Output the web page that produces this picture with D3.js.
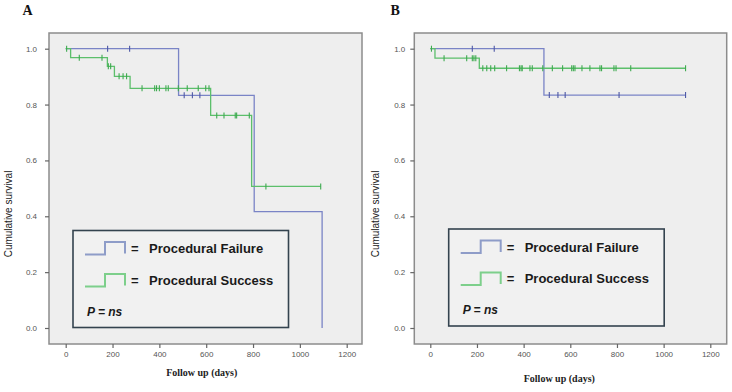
<!DOCTYPE html>
<html>
<head>
<meta charset="utf-8">
<script src="https://cdn.jsdelivr.net/npm/d3@7"></script>
<style>
  body { margin: 0; background: #ffffff; }
  svg { display: block; }
</style>
</head>
<body>
<div id="canvas"></div>
<script>
"use strict"

/* Axis ticks */
let xTicks = [0, 200, 400, 600, 800, 1000, 1200];
let yTicks = [0.0, 0.2, 0.4, 0.6, 0.8, 1.0];

/* Panel A - step points (time in days, cumulative survival) and censor times */
let failTimesA = [0, 482, 805, 1095];
let failSurvA = [1.0, 0.833, 0.417, 0.0];
let failEndA = 1095;
let failCensorA = [179, 273, 506, 541, 573];

let succTimesA = [0, 21, 178, 208, 275, 619, 794];
let succSurvA = [1.0, 0.968, 0.937, 0.901, 0.858, 0.761, 0.507];
let succEndA = 1089;
let succCensorA = [4, 58, 155, 182, 192, 228, 245, 260, 326, 380, 388, 400, 428, 438,
    481, 519, 566, 598, 612, 645, 676, 724, 730, 784, 855, 1089];

/* Panel B */
let failTimesB = [0, 487];
let failSurvB = [1.0, 0.834];
let failEndB = 1094;
let failCensorB = [180, 274, 510, 547, 578, 809, 1094];

let succTimesB = [0, 20, 210];
let succSurvB = [1.0, 0.966, 0.930];
let succEndB = 1094;
let succCensorB = [5, 59, 156, 180, 187, 195, 225, 242, 259, 276, 327, 382, 389, 394,
    427, 437, 482, 523, 567, 606, 613, 620, 650, 684, 727, 734, 787, 796, 859, 1094];

let legendLabels = ["Procedural Failure", "Procedural Success"];

/* Drawing config */
let svgWidth = 732;
let svgHeight = 392;
let failColor = "#7a84c6";
let failTick = "#4d58a6";
let succColor = "#5cbf6b";
let succTick = "#3daa4f";

let svg = d3.select("#canvas")
    .append("svg")
    .attr("width", svgWidth)
    .attr("height", svgHeight);

/* survival value at time t for a step function */
function survAt(times, surv, t) {
    let s = surv[0];
    for (let i = 0; i < times.length; i++) {
        if (times[i] <= t) s = surv[i];
    }
    return s;
}

function drawPanel(p) {
    let g = svg.append("g");

    let xScale = d3.scaleLinear()
        .domain([0, 1200])
        .range([p.x0, p.x1200]);
    let yScale = d3.scaleLinear()
        .domain([0, 1])
        .range([328, 48.7]);

    /* plot frame */
    g.append("rect")
        .attr("x", p.left)
        .attr("y", 33)
        .attr("width", p.right - p.left)
        .attr("height", 344 - 33)
        .attr("fill", "#eeeeee")
        .attr("stroke", "#8c8c8c")
        .attr("stroke-width", 1.5);

    /* axes */
    let yAxis = g.append("g")
        .attr("transform", "translate(" + p.left + ",0)")
        .call(d3.axisLeft(yScale).tickValues(yTicks).tickFormat(d3.format(".1f"))
            .tickSize(4).tickPadding(p.yPad));
    let xAxis = g.append("g")
        .attr("transform", "translate(0,344)")
        .call(d3.axisBottom(xScale).tickValues(xTicks).tickFormat(d3.format("d"))
            .tickSize(4).tickPadding(3));
    [xAxis, yAxis].forEach(function (a) {
        a.select(".domain").remove();
        a.selectAll(".tick line").attr("stroke", "#666").attr("stroke-width", 1.2);
        a.selectAll(".tick text")
            .attr("fill", "#555")
            .style("font-family", "Liberation Sans, Arial, sans-serif")
            .style("font-size", "8px");
    });

    /* curves: failure first, success drawn on top */
    let series = [
        { times: p.failTimes, surv: p.failSurv, end: p.failEnd, censor: p.failCensor, color: failColor, tick: failTick },
        { times: p.succTimes, surv: p.succSurv, end: p.succEnd, censor: p.succCensor, color: succColor, tick: succTick }
    ];

    let line = d3.line()
        .x(function (d) { return xScale(d[0]); })
        .y(function (d) { return yScale(d[1]); })
        .curve(d3.curveStepAfter);

    series.forEach(function (s) {
        let pts = s.times.map(function (t, i) { return [t, s.surv[i]]; });
        if (s.end > s.times[s.times.length - 1]) {
            pts.push([s.end, s.surv[s.surv.length - 1]]);
        }
        g.append("path")
            .datum(pts)
            .attr("d", line)
            .attr("fill", "none")
            .attr("stroke", s.color)
            .attr("stroke-width", 1.3);

        g.selectAll(null)
            .data(s.censor)
            .join("line")
            .attr("x1", function (d) { return xScale(d); })
            .attr("x2", function (d) { return xScale(d); })
            .attr("y1", function (d) { return yScale(survAt(s.times, s.surv, d)) - 3; })
            .attr("y2", function (d) { return yScale(survAt(s.times, s.surv, d)) + 3; })
            .attr("stroke", s.tick)
            .attr("stroke-width", 1.1);
    });

    /* legend box */
    let lx = p.legX;
    let ly = p.legY;
    g.append("rect")
        .attr("x", lx)
        .attr("y", ly)
        .attr("width", 215.5)
        .attr("height", 97)
        .attr("fill", "#f1f1f1")
        .attr("stroke", "#34434f")
        .attr("stroke-width", 1.6);

    let iconColors = ["#8e9cc8", "#7dcf8b"];
    let iconLow = [24, 56];
    let textBase = [22.5, 54];
    for (let i = 0; i < 2; i++) {
        let low = ly + iconLow[i];
        let high = low - 12.5;
        g.append("path")
            .attr("d", "M" + (lx + 12) + "," + low + "H" + (lx + 32) + "V" + high +
                "H" + (lx + 52) + "V" + (low - 1))
            .attr("fill", "none")
            .attr("stroke", iconColors[i])
            .attr("stroke-width", 2);
        g.append("text")
            .attr("x", lx + 58)
            .attr("y", ly + textBase[i])
            .style("font-family", "Liberation Sans, Arial, sans-serif")
            .style("font-size", "13px")
            .style("font-weight", "bold")
            .attr("fill", "#1a1a1a")
            .text("=");
        g.append("text")
            .attr("x", lx + 76)
            .attr("y", ly + textBase[i])
            .style("font-family", "Liberation Sans, Arial, sans-serif")
            .style("font-size", "13px")
            .style("font-weight", "bold")
            .attr("fill", "#1a1a1a")
            .text(legendLabels[i]);
    }
    let pText = g.append("text")
        .attr("x", lx + 14)
        .attr("y", ly + 85)
        .style("font-family", "Liberation Sans, Arial, sans-serif")
        .style("font-size", "12px")
        .style("font-weight", "bold")
        .style("font-style", "italic")
        .attr("fill", "#1a1a1a");
    pText.append("tspan").text("P");
    pText.append("tspan").text(" = ");
    pText.append("tspan").text("ns");

    /* axis titles */
    g.append("text")
        .attr("x", p.xTitleX)
        .attr("y", p.xTitleY)
        .attr("text-anchor", "middle")
        .style("font-family", "Liberation Serif, Times New Roman, serif")
        .style("font-size", "10px")
        .style("font-weight", "bold")
        .attr("fill", "#222")
        .text("Follow up (days)");

    g.append("text")
        .attr("transform", "translate(" + p.yTitleX + ",214) rotate(-90)")
        .attr("text-anchor", "middle")
        .style("font-family", "Liberation Sans, Arial, sans-serif")
        .style("font-size", "10px")
        .attr("fill", "#222")
        .text("Cumulative survival");

    /* panel letter */
    g.append("text")
        .attr("x", p.letterX)
        .attr("y", 15)
        .style("font-family", "Liberation Serif, Times New Roman, serif")
        .style("font-size", "14px")
        .style("font-weight", "bold")
        .attr("fill", "#111")
        .text(p.letter);
}

drawPanel({
    letter: "A", letterX: 22.5,
    left: 49, right: 362, x0: 65.7, x1200: 346.7, yPad: 8,
    failTimes: failTimesA, failSurv: failSurvA, failEnd: failEndA, failCensor: failCensorA,
    succTimes: succTimesA, succSurv: succSurvA, succEnd: succEndA, succCensor: succCensorA,
    legX: 73, legY: 230.5,
    xTitleX: 201.7, xTitleY: 376, yTitleX: 12
});

drawPanel({
    letter: "B", letterX: 390.5,
    left: 414.3, right: 726.7, x0: 430.3, x1200: 710.3, yPad: 5,
    failTimes: failTimesB, failSurv: failSurvB, failEnd: failEndB, failCensor: failCensorB,
    succTimes: succTimesB, succSurv: succSurvB, succEnd: succEndB, succCensor: succCensorB,
    legX: 448.7, legY: 229,
    xTitleX: 559.3, xTitleY: 382, yTitleX: 379
});
</script>
</body>
</html>
